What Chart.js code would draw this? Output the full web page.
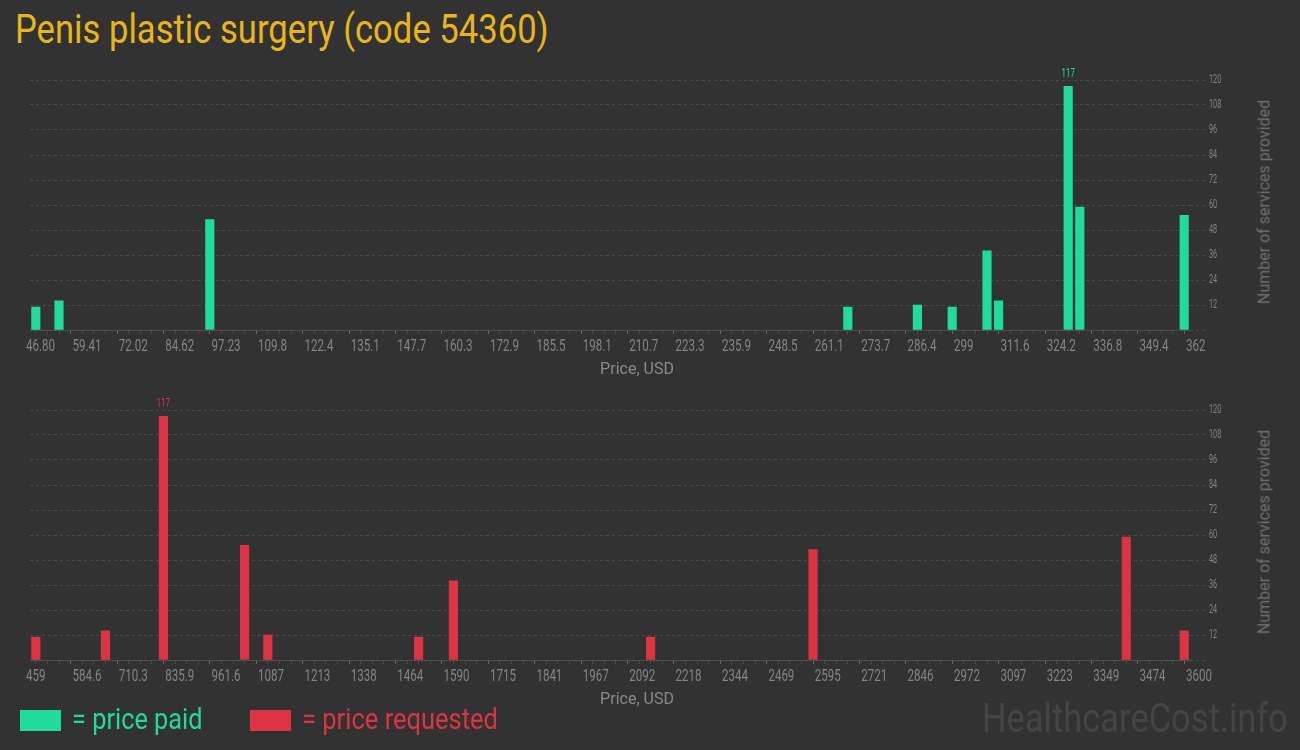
<!DOCTYPE html>
<html>
<head>
<meta charset="utf-8">
<script src="https://cdn.jsdelivr.net/npm/chart.js@4.4.1/dist/chart.umd.min.js"></script>
<style>
  html, body { margin: 0; padding: 0; background: #323232; }
  #page { position: relative; width: 1300px; height: 750px; background: #323232; overflow: hidden; font-family: Roboto, sans-serif; }
  .box { position: absolute; left: 0; width: 1300px; }
  .fit { position: absolute; white-space: nowrap; transform-origin: 0 0; }
  .axisX { position: absolute; color: #8a8a8a; font-size: 16px; white-space: nowrap; transform: translate(-50%, -50%); }
  .axisY { position: absolute; color: #707070; font-size: 16px; white-space: nowrap; transform: translate(-50%, -50%) rotate(-90deg); }
  .swatch { position: absolute; width: 41px; height: 21px; }
</style>
</head>
<body>
<div id="page">
  <div class="fit" id="title" style="left:15px; top:6px; font-size:40px; color:#e9b51c;">Penis plastic surgery (code 54360)</div>

  <div class="box" style="top:60px; height:320px;"><canvas id="paidChart"></canvas></div>
  <div class="axisX" style="left:637px; top:368px;">Price, USD</div>
  <div class="axisY" style="left:1264px; top:202px;">Number of services provided</div>

  <div class="box" style="top:390px; height:320px;"><canvas id="requestedChart"></canvas></div>
  <div class="axisX" style="left:637px; top:698px;">Price, USD</div>
  <div class="axisY" style="left:1264px; top:532px;">Number of services provided</div>

  <div class="swatch" style="left:20px; top:710px; background:#21db9a;"></div>
  <div class="fit" id="legPaid" style="left:72px; top:702px; font-size:29px; color:#21db9a;">= price paid</div>
  <div class="swatch" style="left:250px; top:710px; background:#dc3444;"></div>
  <div class="fit" id="legReq" style="left:302px; top:702px; font-size:29px; color:#dc3444;">= price requested</div>

  <div class="fit" id="mark" style="left:982px; top:694px; font-size:41px; color:#454545;">HealthcareCost.info</div>
</div>

<script>
// histogram bins: 100 bins per chart, labels every 4th bin edge
const paidTicks = ["46.80", "59.41", "72.02", "84.62", "97.23", "109.8", "122.4", "135.1", "147.7",
  "160.3", "172.9", "185.5", "198.1", "210.7", "223.3", "235.9", "248.5", "261.1", "273.7",
  "286.4", "299", "311.6", "324.2", "336.8", "349.4", "362"];
const paidBins = [0, 2, 15, 70, 76, 79, 82, 83, 89, 90, 99];
const paidCounts = [11, 14, 53, 11, 12, 11, 38, 14, 117, 59, 55];

const requestedTicks = ["459", "584.6", "710.3", "835.9", "961.6", "1087", "1213", "1338", "1464",
  "1590", "1715", "1841", "1967", "2092", "2218", "2344", "2469", "2595", "2721",
  "2846", "2972", "3097", "3223", "3349", "3474", "3600"];
const requestedBins = [0, 6, 11, 18, 20, 33, 36, 53, 67, 94, 99];
const requestedCounts = [11, 14, 117, 55, 12, 11, 38, 11, 53, 59, 14];

const binCount = 100;
const yTicks = [0, 12, 24, 36, 48, 60, 72, 84, 96, 108, 120];

// squeeze html text to the width it has in the picture
function fit(id, width) {
  const el = document.getElementById(id);
  el.style.transform = "scaleX(" + (width / el.offsetWidth) + ")";
}
fit("title", 534);
fit("legPaid", 131);
fit("legReq", 196);
fit("mark", 306);

// canvas text drawn narrow, the installed fonts have no condensed face
function narrowText(ctx, text, x, y, size, squeeze, align, baseline) {
  ctx.save();
  ctx.font = size + "px Roboto, sans-serif";
  ctx.textAlign = align;
  ctx.textBaseline = baseline;
  ctx.translate(x, y);
  ctx.scale(squeeze, 1);
  ctx.fillText(text, 0, 0);
  ctx.restore();
}

// tick labels and the count over the tallest bar
const narrowLabels = {
  id: "narrowLabels",
  afterDraw(chart, args, opts) {
    const ctx = chart.ctx;
    const xs = chart.scales.x;
    const ys = chart.scales.y;
    ctx.fillStyle = "#858585";
    xs.ticks.forEach((t) => {
      if (t.value % 4 !== 0) return;
      narrowText(ctx, opts.labels[t.value / 4], xs.getPixelForValue(t.value) - 4, xs.top + 16.5, 16.5, 0.7, "left", "middle");
    });
    ys.ticks.forEach((t) => {
      if (t.value === 0) return;
      narrowText(ctx, String(t.value), ys.left + 19, ys.getPixelForValue(t.value), 12.5, 0.58, "left", "middle");
    });

    const ds = chart.data.datasets[0];
    const meta = chart.getDatasetMeta(0);
    let best = 0;
    ds.data.forEach((p, i) => { if (p.y > ds.data[best].y) best = i; });
    const bar = meta.data[best];
    ctx.fillStyle = ds.backgroundColor;
    narrowText(ctx, String(ds.data[best].y), bar.x, bar.y - 9, 13, 0.6, "center", "alphabetic");
  }
};

function makeChart(id, bins, counts, tickLabels, color) {
  const points = bins.map((b, i) => ({ x: b + 0.5, y: counts[i] }));
  return new Chart(document.getElementById(id).getContext("2d"), {
    type: "bar",
    data: {
      datasets: [{
        data: points,
        backgroundColor: color,
        borderWidth: 0,
        barThickness: 8.5
      }]
    },
    options: {
      responsive: true,
      maintainAspectRatio: false,
      animation: false,
      layout: { padding: { top: 20, left: 30 } },
      plugins: {
        legend: { display: false },
        tooltip: { enabled: false },
        narrowLabels: { labels: tickLabels }
      },
      scales: {
        x: {
          type: "linear",
          min: 0,
          max: binCount,
          offset: false,
          afterBuildTicks: (scale) => {
            const t = [];
            for (let i = 0; i <= binCount; i++) t.push({ value: i });
            scale.ticks = t;
          },
          afterFit: (scale) => { scale.height = 50; },
          ticks: { display: false, autoSkip: false, maxRotation: 0 },
          grid: {
            drawOnChartArea: false,
            tickLength: 4,
            tickColor: (c) => (c.tick && c.tick.value % 4 === 0 ? "#6a6a6a" : "#4c4c4c")
          },
          border: { display: true, color: "#4e4e4e", width: 1 }
        },
        y: {
          position: "right",
          min: 0,
          max: 120,
          afterBuildTicks: (scale) => { scale.ticks = yTicks.map((v) => ({ value: v })); },
          afterFit: (scale) => { scale.width = 110; },
          ticks: { display: false },
          grid: {
            color: "#4a4a4a",
            tickBorderDash: [3, 3],
            tickLength: 16,
            tickColor: "#4a4a4a"
          },
          border: { display: false, dash: [3, 3] }
        }
      }
    },
    plugins: [narrowLabels]
  });
}

makeChart("paidChart", paidBins, paidCounts, paidTicks, "#21db9a");
makeChart("requestedChart", requestedBins, requestedCounts, requestedTicks, "#dc3444");
</script>
</body>
</html>
